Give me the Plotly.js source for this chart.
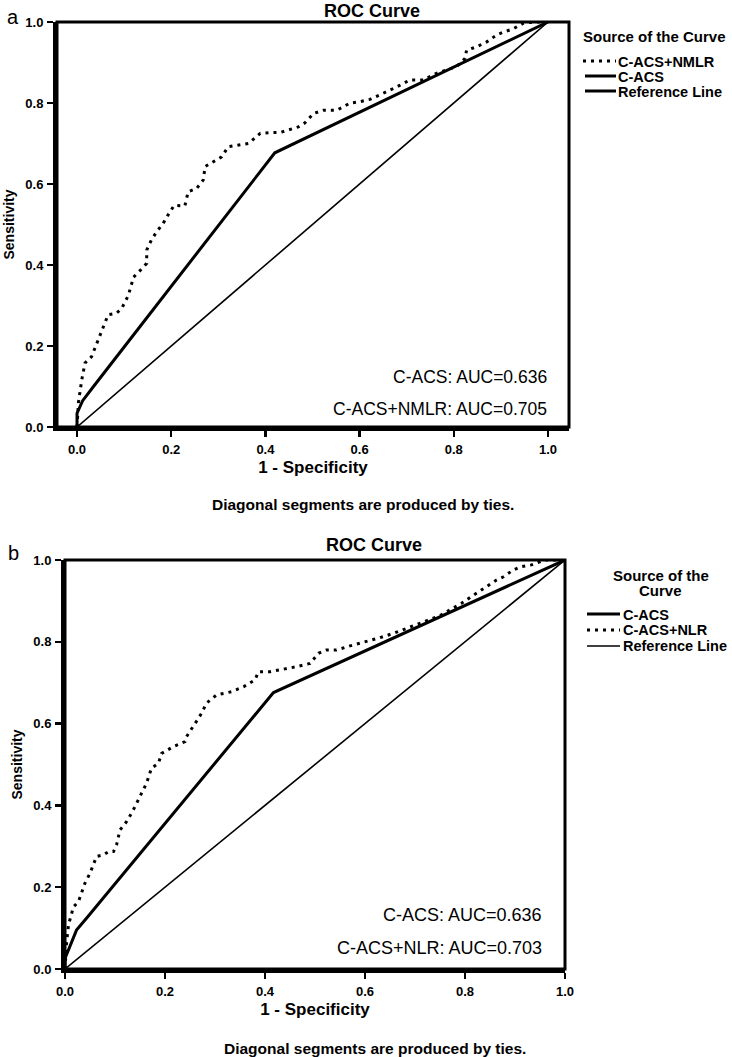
<!DOCTYPE html>
<html>
<head>
<meta charset="utf-8">
<script src="https://cdn.plot.ly/plotly-3.0.1.min.js"></script>
<style>html,body{margin:0;padding:0;background:#fff;}#chart{width:732px;height:1057px;}</style>
</head>
<body>
<div id="chart"></div>
<script>
// ---------- data ----------
var tickVals = [0, 0.2, 0.4, 0.6, 0.8, 1.0];
var tickLabels = ["0.0", "0.2", "0.4", "0.6", "0.8", "1.0"];

// Panel a
var aCacsX = [0, 0, 0.012, 0.035, 0.42, 1];
var aCacsY = [0, 0.034, 0.065, 0.10, 0.677, 1];
var aNmlrX = [0, 0.003, 0.01, 0.017, 0.031, 0.045, 0.056, 0.066, 0.084, 0.095, 0.109, 0.12, 0.137, 0.148, 0.148, 0.158, 0.169, 0.183, 0.194, 0.206, 0.229, 0.236, 0.254, 0.268, 0.272, 0.289, 0.307, 0.321, 0.342, 0.364, 0.389, 0.41, 0.431, 0.449, 0.47, 0.484, 0.502, 0.523, 0.551, 0.566, 0.58, 0.60, 0.622, 0.643, 0.665, 0.686, 0.707, 0.735, 0.763, 0.785, 0.806, 0.824, 0.827, 0.849, 0.87, 0.891, 0.905, 0.926, 0.948, 0.969, 1];
var aNmlrY = [0, 0.06, 0.116, 0.158, 0.174, 0.215, 0.248, 0.277, 0.281, 0.293, 0.325, 0.37, 0.39, 0.404, 0.437, 0.462, 0.482, 0.503, 0.525, 0.547, 0.546, 0.581, 0.589, 0.61, 0.643, 0.655, 0.667, 0.692, 0.696, 0.70, 0.725, 0.727, 0.727, 0.733, 0.741, 0.751, 0.774, 0.782, 0.782, 0.791, 0.80, 0.803, 0.809, 0.82, 0.832, 0.844, 0.857, 0.857, 0.873, 0.881, 0.89, 0.91, 0.93, 0.939, 0.951, 0.968, 0.975, 0.983, 0.997, 1.0, 1];

// Panel b
var bCacsX = [0, 0, 0.023, 0.043, 0.417, 1];
var bCacsY = [0, 0.026, 0.095, 0.124, 0.676, 1];
var bNlrX = [0, 0.003, 0.007, 0.013, 0.017, 0.027, 0.033, 0.04, 0.05, 0.057, 0.063, 0.077, 0.087, 0.097, 0.103, 0.11, 0.123, 0.135, 0.15, 0.163, 0.173, 0.187, 0.193, 0.217, 0.24, 0.243, 0.26, 0.273, 0.283, 0.303, 0.333, 0.357, 0.38, 0.387, 0.41, 0.43, 0.463, 0.49, 0.507, 0.523, 0.543, 0.57, 0.60, 0.63, 0.66, 0.69, 0.72, 0.75, 0.77, 0.793, 0.817, 0.83, 0.843, 0.863, 0.877, 0.897, 0.913, 0.933, 0.96, 1];
var bNlrY = [0, 0.063, 0.108, 0.136, 0.152, 0.165, 0.185, 0.21, 0.234, 0.254, 0.275, 0.279, 0.287, 0.287, 0.303, 0.34, 0.36, 0.385, 0.421, 0.454, 0.491, 0.503, 0.527, 0.544, 0.556, 0.568, 0.60, 0.625, 0.65, 0.67, 0.678, 0.69, 0.707, 0.727, 0.727, 0.731, 0.739, 0.747, 0.772, 0.78, 0.78, 0.79, 0.80, 0.81, 0.822, 0.836, 0.85, 0.864, 0.878, 0.894, 0.914, 0.925, 0.935, 0.951, 0.959, 0.976, 0.984, 0.988, 1.0, 1];

var refX = [0, 1];
var refY = [0, 1];

// ---------- layout helpers ----------
var W = 732, H = 1057;
function px(x) { return x / W; }
function py(y) { return 1 - y / H; }
var FAM = "Liberation Sans, Arial, sans-serif";
var DOT = "3px,5px";

var traces = [
  {x: refX, y: refY, xaxis: 'x', yaxis: 'y', mode: 'lines', name: 'Reference Line', line: {color: '#000', width: 1.6}, showlegend: false},
  {x: aCacsX, y: aCacsY, xaxis: 'x', yaxis: 'y', mode: 'lines', name: 'C-ACS', line: {color: '#000', width: 3}, showlegend: false},
  {x: aNmlrX, y: aNmlrY, xaxis: 'x', yaxis: 'y', mode: 'lines', name: 'C-ACS+NMLR', line: {color: '#000', width: 3, dash: DOT}, showlegend: false},
  {x: refX, y: refY, xaxis: 'x2', yaxis: 'y2', mode: 'lines', name: 'Reference Line', line: {color: '#000', width: 1.6}, showlegend: false},
  {x: bCacsX, y: bCacsY, xaxis: 'x2', yaxis: 'y2', mode: 'lines', name: 'C-ACS', line: {color: '#000', width: 3}, showlegend: false},
  {x: bNlrX, y: bNlrY, xaxis: 'x2', yaxis: 'y2', mode: 'lines', name: 'C-ACS+NLR', line: {color: '#000', width: 3, dash: DOT}, showlegend: false}
];

var tickFont = {family: FAM, size: 13, color: '#000', weight: 'bold'};
function xAxis(domain, range, anchor, standoff) {
  return {domain: domain, range: range, anchor: anchor, tickvals: tickVals, ticktext: tickLabels,
    showgrid: false, zeroline: false, showline: true, linecolor: '#000', linewidth: 4,
    ticks: 'outside', ticklen: 6, tickwidth: 2.5, tickcolor: '#000', tickfont: tickFont,
    ticklabelstandoff: 1, fixedrange: true,
    title: {text: '1 - Specificity', font: {family: FAM, size: 17, color: '#000', weight: 'bold'}, standoff: standoff}};
}
function yAxis(domain, anchor, standoff) {
  return {domain: domain, range: [0, 1], anchor: anchor, tickvals: tickVals, ticktext: tickLabels,
    showgrid: false, zeroline: false, showline: true, linecolor: '#000', linewidth: 4,
    ticks: 'outside', ticklen: 6, tickwidth: 2.5, tickcolor: '#000', tickfont: tickFont,
    ticklabelstandoff: 1, fixedrange: true,
    title: {text: 'Sensitivity', font: {family: FAM, size: 14, color: '#000', weight: 'bold'}, standoff: standoff}};
}

function ann(text, x, y, size, bold, xanchor, yanchor) {
  return {text: text, x: px(x), y: py(y), xref: 'paper', yref: 'paper', showarrow: false,
    xanchor: xanchor || 'center', yanchor: yanchor || 'middle', borderpad: 0,
    font: {family: FAM, size: size, color: '#000', weight: bold ? 'bold' : 'normal'}};
}
function seg(x0, x1, y, width, dash) {
  return {type: 'line', xref: 'paper', yref: 'paper', x0: px(x0), x1: px(x1), y0: py(y), y1: py(y),
    line: {color: '#000', width: width, dash: dash || 'solid'}};
}

var layout = {
  width: W, height: H,
  margin: {l: 0, r: 0, t: 0, b: 0},
  paper_bgcolor: '#fff', plot_bgcolor: '#fff',
  showlegend: false,
  font: {family: FAM, color: '#000'},
  xaxis: xAxis([px(57), px(569)], [-0.0425, 1.0446], 'y', 7),
  yaxis: yAxis([py(427), py(22)], 'x', 8),
  xaxis2: xAxis([px(65), px(565)], [0, 1], 'y2', 7),
  yaxis2: yAxis([py(969), py(560)], 'x2', 8),
  shapes: [
    {type: 'rect', xref: 'x domain', yref: 'y domain', x0: 0, x1: 1, y0: 0, y1: 1, line: {color: '#000', width: 3}},
    {type: 'rect', xref: 'x2 domain', yref: 'y2 domain', x0: 0, x1: 1, y0: 0, y1: 1, line: {color: '#000', width: 3}},
    // legend a
    seg(583, 616, 61, 3, DOT),
    seg(585, 616, 76, 3),
    seg(585, 616, 91, 3),
    // legend b
    seg(587, 620, 614, 3),
    seg(587, 620, 630, 3, DOT),
    seg(587, 620, 646, 1.6)
  ],
  annotations: [
    ann('a', 13, 17, 20, false),
    ann('b', 13, 553, 20, false),
    ann('ROC Curve', 372, 0, 18, true, 'center', 'top'),
    ann('ROC Curve', 374, 545, 18, true),
    ann('C-ACS: AUC=0.636', 548, 377, 17.5, false, 'right'),
    ann('C-ACS+NMLR: AUC=0.705', 548, 409, 17.5, false, 'right'),
    ann('C-ACS: AUC=0.636', 543, 915, 18, false, 'right'),
    ann('C-ACS+NLR: AUC=0.703', 543, 948, 18, false, 'right'),
    ann('Diagonal segments are produced by ties.', 363, 505, 15.5, true),
    ann('Diagonal segments are produced by ties.', 375, 1048, 15.5, true),
    // legend a text
    ann('Source of the Curve', 582, 36, 15, true, 'left'),
    ann('C-ACS+NMLR', 617, 62, 14.5, true, 'left'),
    ann('C-ACS', 617, 77, 14.5, true, 'left'),
    ann('Reference Line', 617, 92, 14.5, true, 'left'),
    // legend b text
    ann('Source of the', 661, 575, 15, true),
    ann('Curve', 660, 590, 15, true),
    ann('C-ACS', 622, 615, 14.5, true, 'left'),
    ann('C-ACS+NLR', 622, 630, 14.5, true, 'left'),
    ann('Reference Line', 622, 646, 14.5, true, 'left')
  ]
};

Plotly.newPlot('chart', traces, layout, {displayModeBar: false, staticPlot: true});
</script>
</body>
</html>
